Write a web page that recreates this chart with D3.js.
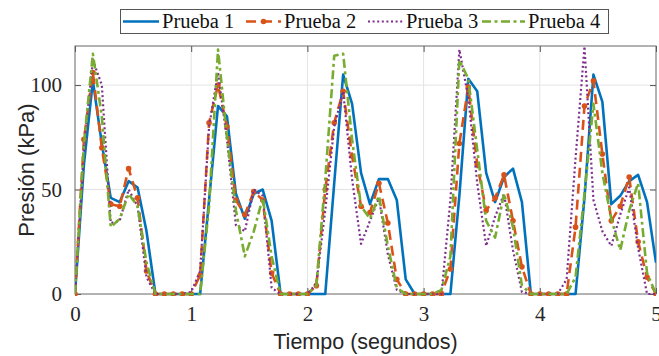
<!DOCTYPE html>
<html>
<head>
<meta charset="utf-8">
<script src="https://cdn.jsdelivr.net/npm/d3@7"></script>
<style>
  body { margin: 0; background: #fff; }
  svg { display: block; }
  .tick text { font-family: "Liberation Serif", serif; }
</style>
</head>
<body>
<div id="chart"></div>
<script>
// sampled at 13 Hz, 0..5 s
const sampleRate = 13;
const nSamples = 66;

const seriesNames = ['Prueba 1', 'Prueba 2', 'Prueba 3', 'Prueba 4'];

const prueba1 = [0, 62, 102, 72, 46, 44, 54, 51, 30, 0, 0, 0, 0, 0,
    0, 45, 90, 85, 48, 36, 48, 50, 35, 0, 0, 0, 0, 0,
    0, 53, 105, 91, 58, 43, 55, 55, 45, 7, 0, 0, 0, 0,
    0, 47, 103, 97, 58, 44, 56, 60, 44, 0, 0, 0, 0, 0,
    0, 46, 105, 92, 43, 47, 54, 57, 44, 15];

const prueba2 = [0, 74, 106, 70, 43, 42, 60, 46, 11, 0, 0, 0, 0, 0,
    9, 82, 100, 80, 45, 38, 49, 45, 10, 0, 0, 0, 0, 4,
    50, 82, 97, 66, 42, 39, 53, 34, 7, 0, 0, 0, 0, 0,
    12, 72, 99, 62, 40, 46, 57, 35, 13, 0, 0, 0, 0, 0,
    32, 90, 102, 67, 35, 42, 56, 25, 8, 0];

const prueba3 = [0, 70, 112, 100, 34, 35, 50, 42, 8, 0, 0, 0, 0, 1,
    11, 80, 106, 74, 33, 30, 50, 47, 3, 0, 0, 0, 0, 5,
    40, 80, 97, 55, 24, 35, 46, 19, 2, 0, 0, 0, 0, 0,
    45, 117, 94, 53, 23, 37, 48, 21, 1, 0, 0, 0, 0, 7,
    65, 118.5, 45, 30, 23, 38, 51, 22, 0, 0];

const prueba4 = [0, 72, 115, 85, 32, 36, 48, 42, 15, 0, 0, 0, 0, 0,
    0, 42, 117, 75, 40, 18, 30, 46, 18, 0, 0, 0, 0, 4,
    55, 114, 115, 74, 42, 36, 47, 23, 3, 0, 0, 0, 0, 2,
    18, 112, 103, 69, 35, 27, 48, 32, 4, 0, 0, 0, 0, 0,
    8, 48, 91, 58, 36, 21, 40, 53, 10, 0];

const xTicks = [0, 1, 2, 3, 4, 5];
const yTicks = [0, 50, 100];

const times = d3.range(nSamples).map(i => i / sampleRate);

const width = 659, height = 356;
const plotLeft = 75, plotRight = 656, plotTop = 46, plotBottom = 294;

const colors = ['#0072BD', '#D95319', '#7E2F8E', '#77AC30'];
const dashes = [null, '10,6', '2,2.6', '9,3.5,3,3.5'];
const widths = [2.6, 2.6, 2.2, 2.6];

const x = d3.scaleLinear().domain([0, 5]).range([plotLeft, plotRight]);
const y = d3.scaleLinear().domain([0, 118.7]).range([plotBottom, plotTop]);

const svg = d3.select('#chart').append('svg')
    .attr('width', width)
    .attr('height', height);

svg.append('defs').append('clipPath').attr('id', 'plotclip')
    .append('rect')
    .attr('x', plotLeft).attr('y', plotTop - 2)
    .attr('width', plotRight - plotLeft).attr('height', plotBottom - plotTop + 4);

// grid
svg.append('g').selectAll('line')
    .data(xTicks.slice(1, -1))
    .enter().append('line')
    .attr('x1', d => x(d)).attr('x2', d => x(d))
    .attr('y1', plotTop).attr('y2', plotBottom)
    .attr('stroke', '#e3e3e3').attr('stroke-width', 1);

svg.append('g').selectAll('line')
    .data(yTicks.slice(1))
    .enter().append('line')
    .attr('x1', plotLeft).attr('x2', plotRight)
    .attr('y1', d => y(d)).attr('y2', d => y(d))
    .attr('stroke', '#e3e3e3').attr('stroke-width', 1);

// axes
const xAxis = d3.axisBottom(x).tickValues(xTicks).tickFormat(d3.format('d'))
    .tickSizeInner(-6).tickSizeOuter(0).tickPadding(12);
const yAxis = d3.axisLeft(y).tickValues(yTicks).tickFormat(d3.format('d'))
    .tickSizeInner(-6).tickSizeOuter(0).tickPadding(13);

const gx = svg.append('g').attr('transform', 'translate(0,' + plotBottom + ')').call(xAxis);
const gy = svg.append('g').attr('transform', 'translate(' + plotLeft + ',0)').call(yAxis);
// top and right ticks (box on)
svg.append('g').attr('transform', 'translate(0,' + plotTop + ')')
    .call(d3.axisTop(x).tickValues(xTicks).tickSizeInner(-6).tickSizeOuter(0).tickFormat(''));
svg.append('g').attr('transform', 'translate(' + plotRight + ',0)')
    .call(d3.axisRight(y).tickValues(yTicks).tickSizeInner(-6).tickSizeOuter(0).tickFormat(''));

svg.selectAll('.domain').remove();
svg.selectAll('.tick line').attr('stroke', '#555');
gx.selectAll('text').attr('font-size', 21).attr('fill', '#262626');
gy.selectAll('text').attr('font-size', 21).attr('fill', '#262626');

svg.append('rect')
    .attr('x', plotLeft).attr('y', plotTop)
    .attr('width', plotRight - plotLeft).attr('height', plotBottom - plotTop)
    .attr('fill', 'none').attr('stroke', '#666').attr('stroke-width', 1);

// lines
const allSeries = [prueba1, prueba2, prueba3, prueba4];
const line = d3.line()
    .x((d, i) => x(times[i]))
    .y(d => y(d));

const plot = svg.append('g').attr('clip-path', 'url(#plotclip)');

allSeries.forEach((vals, k) => {
    plot.append('path')
        .datum(vals)
        .attr('d', line)
        .attr('fill', 'none')
        .attr('stroke', colors[k])
        .attr('stroke-width', widths[k])
        .attr('stroke-dasharray', dashes[k])
        .attr('stroke-linejoin', 'round')
        .attr('stroke-linecap', 'butt');
    if (k == 1) {
        plot.append('g').selectAll('circle')
            .data(vals)
            .enter().append('circle')
            .attr('cx', (d, i) => x(times[i]))
            .attr('cy', d => y(d))
            .attr('r', 2.8)
            .attr('fill', colors[k]);
    }
});

// axis labels
svg.append('text')
    .attr('x', (plotLeft + plotRight) / 2).attr('y', 349)
    .attr('text-anchor', 'middle')
    .attr('font-family', '"Liberation Sans", Arial, sans-serif')
    .attr('font-size', 21.5).attr('fill', '#262626')
    .text('Tiempo (segundos)');

svg.append('text')
    .attr('transform', 'translate(34,' + (plotTop + plotBottom) / 2 + ') rotate(-90)')
    .attr('text-anchor', 'middle')
    .attr('font-family', '"Liberation Sans", Arial, sans-serif')
    .attr('font-size', 22).attr('fill', '#262626')
    .text('Presión (kPa)');

// legend
const legend = svg.append('g');
legend.append('rect')
    .attr('x', 120.5).attr('y', 9.5)
    .attr('width', 488).attr('height', 24)
    .attr('fill', '#fff').attr('stroke', '#555').attr('stroke-width', 1);

const legX = [123, 246, 368, 482];
const legLen = [36, 35, 35, 43];

seriesNames.forEach((name, k) => {
    legend.append('line')
        .attr('x1', legX[k]).attr('x2', legX[k] + legLen[k])
        .attr('y1', 21.5).attr('y2', 21.5)
        .attr('stroke', colors[k])
        .attr('stroke-width', widths[k])
        .attr('stroke-dasharray', dashes[k]);
    if (k == 1) {
        legend.append('circle')
            .attr('cx', legX[k] + legLen[k] / 2).attr('cy', 21.5)
            .attr('r', 2.8).attr('fill', colors[k]);
    }
    legend.append('text')
        .attr('x', legX[k] + legLen[k] + 3).attr('y', 28)
        .attr('font-family', '"Liberation Serif", serif')
        .attr('font-size', 20.5).attr('fill', '#111')
        .text(name);
});
</script>
</body>
</html>
